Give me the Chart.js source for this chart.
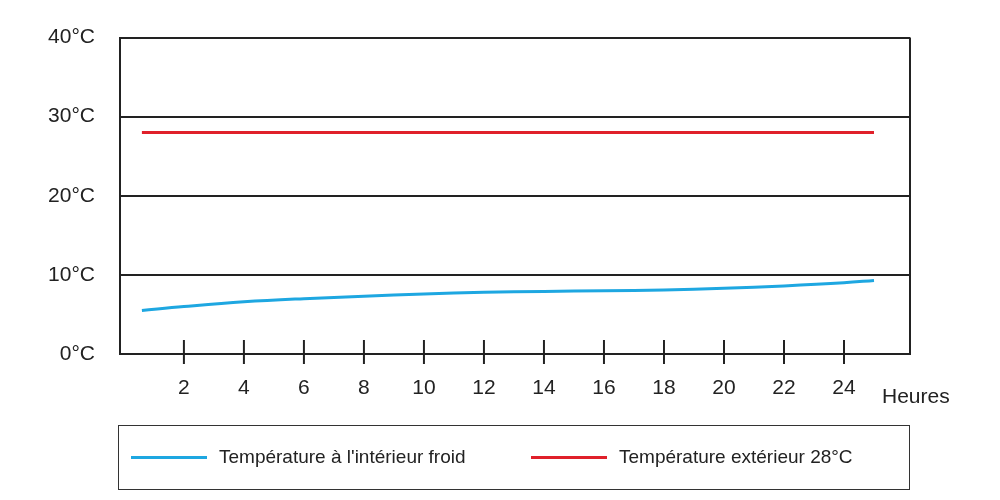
<!DOCTYPE html>
<html><head><meta charset="utf-8">
<script src="https://cdn.jsdelivr.net/npm/chart.js@4"></script>
<style>
body{margin:0;background:#fff;font-family:"Liberation Sans Narrow","Liberation Sans",sans-serif;}
#wrap{position:relative;width:1000px;height:500px;}
#legend{position:absolute;left:118px;top:425px;width:790px;height:63px;border:1.5px solid #333;font-size:19px;color:#222;}
.it{position:absolute;top:20px;display:flex;align-items:center;}
.ln{display:inline-block;width:76px;height:3px;margin-right:12px;}
</style></head><body>
<div id="wrap"><canvas id="c" width="1000" height="500"></canvas>
<div id="legend"></div></div>
<script>
const seriesNames=["Température à l'intérieur froid","Température extérieur 28°C"];
const hours=[0.6,2,4,6,8,10,12,14,16,18,20,22,24,25];
const inside=[5.5,6.0,6.6,7.0,7.3,7.6,7.8,7.9,8.0,8.1,8.3,8.6,9.0,9.3];
const outside=[28,28,28,28,28,28,28,28,28,28,28,28,28,28];
const xTicks=[2,4,6,8,10,12,14,16,18,20,22,24];
const yTicks=[0,10,20,30,40];
const colors=['#1ea7e1','#e0202a'];
const lg=document.getElementById('legend');
[[12,0],[412,1]].forEach(([l,i])=>{const d=document.createElement('div');d.className='it';d.style.left=l+'px';
d.innerHTML='<span class="ln" style="background:'+colors[i]+'"></span>'+seriesNames[i];lg.appendChild(d);});
const F='"Liberation Sans Narrow","Liberation Sans",sans-serif';
const deco={id:'deco',afterDraw(ch){const c=ch.ctx,a=ch.chartArea,x=ch.scales.x;c.save();c.strokeStyle='#222';c.lineWidth=2;
c.beginPath();c.moveTo(a.right,a.top);c.lineTo(a.right,a.bottom);c.stroke();
xTicks.forEach(v=>{const p=x.getPixelForValue(v);c.beginPath();c.moveTo(p,a.bottom-14);c.lineTo(p,a.bottom+10);c.stroke();});
c.fillStyle='#222';c.font='21px '+F;c.textAlign='left';c.textBaseline='middle';c.fillText('Heures',a.right-28,a.bottom+43);c.restore();}};
new Chart(document.getElementById('c'),{type:'line',
data:{datasets:[{label:seriesNames[0],data:hours.map((h,i)=>({x:h,y:inside[i]})),borderColor:colors[0],borderWidth:3,pointRadius:0,tension:0.4},
{label:seriesNames[1],data:hours.map((h,i)=>({x:h,y:outside[i]})),borderColor:colors[1],borderWidth:3,pointRadius:0}]},
options:{responsive:false,animation:false,layout:{padding:{top:2,right:90,left:0}},
plugins:{legend:{display:false},tooltip:{enabled:false}},
scales:{x:{type:'linear',min:-0.13,max:26.2,afterBuildTicks:s=>{s.ticks=xTicks.map(v=>({value:v}));},
grid:{display:false},border:{display:true,color:'#222',width:2},
ticks:{color:'#222',font:{size:21,family:F},padding:14,maxRotation:0},afterFit:s=>{s.height=146;}},
y:{min:0,max:40,afterBuildTicks:s=>{s.ticks=yTicks.map(v=>({value:v}));},
grid:{color:'#222',lineWidth:2,drawTicks:false},border:{display:true,color:'#222',width:2},
ticks:{color:'#222',font:{size:21,family:F},padding:25,callback:v=>v+'°C'},afterFit:s=>{s.width=120;}}}},
plugins:[deco]});
</script></body></html>
